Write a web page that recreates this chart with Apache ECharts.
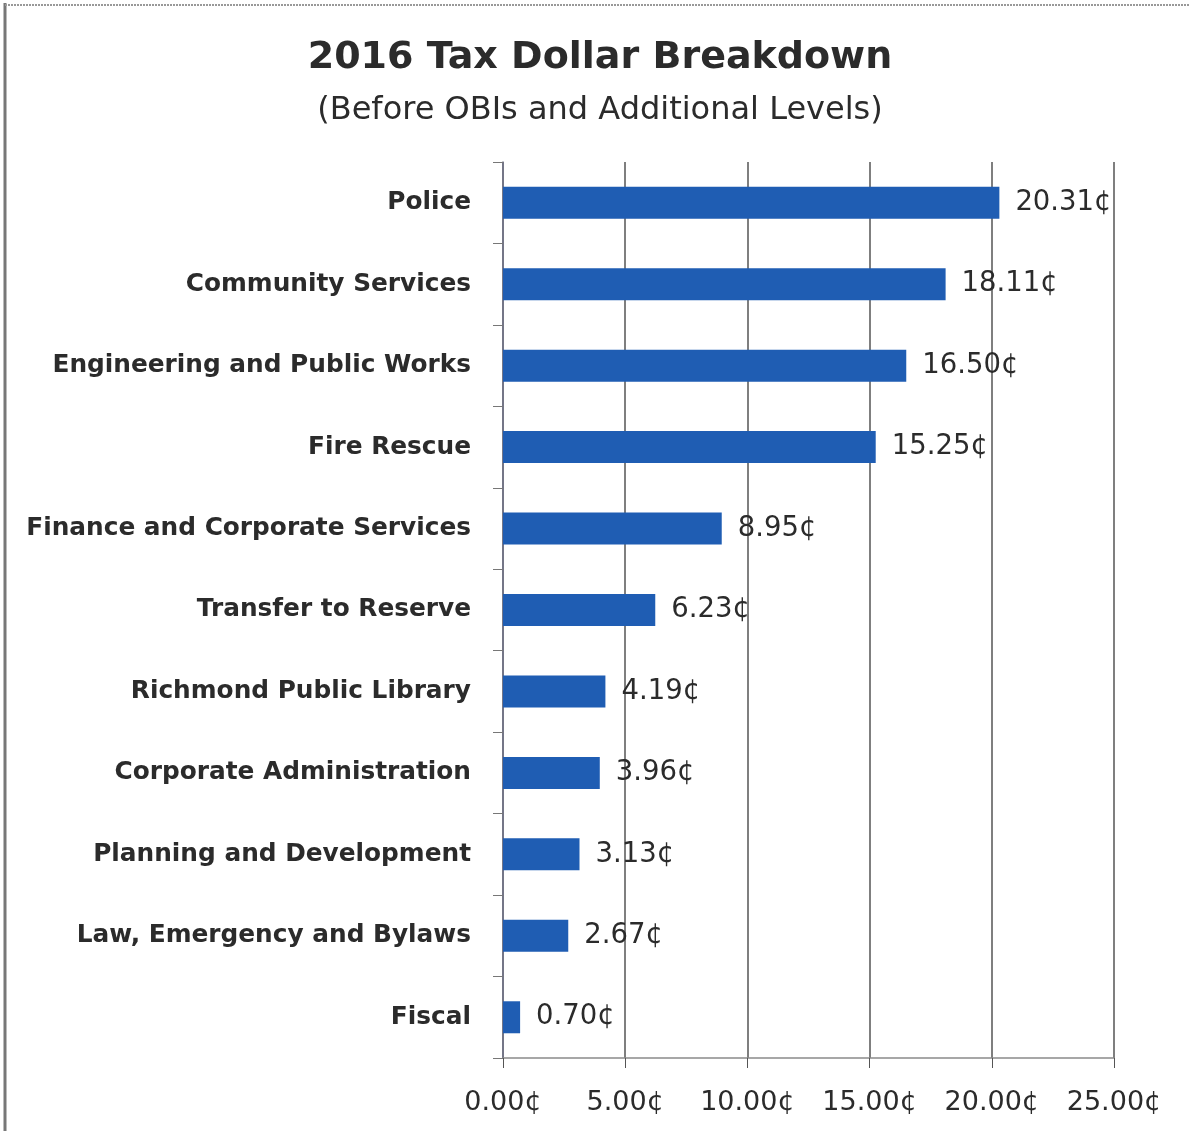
<!DOCTYPE html>
<html>
<head>
<meta charset="utf-8">
<script src="https://cdn.jsdelivr.net/npm/echarts@6/dist/echarts.min.js"></script>
<style>
  html, body { margin: 0; padding: 0; background: #fff; }
  #chart { width: 1190px; height: 1131px; }
</style>
</head>
<body>
<div id="chart"></div>
<script>
// Departments, top to bottom
const categories = [
  'Police',
  'Community Services',
  'Engineering and Public Works',
  'Fire Rescue',
  'Finance and Corporate Services',
  'Transfer to Reserve',
  'Richmond Public Library',
  'Corporate Administration',
  'Planning and Development',
  'Law, Emergency and Bylaws',
  'Fiscal'
];
// Cents of each tax dollar
const cents = [20.31, 18.11, 16.50, 15.25, 8.95, 6.23, 4.19, 3.96, 3.13, 2.67, 0.70];
// Value axis range
const axisMin = 0;
const axisMax = 25;
const axisStep = 5;

const chart = echarts.init(document.getElementById('chart'));
const textColor = '#2b2b2b';
const fmtCents = v => Number(v).toFixed(2) + '\u00A2';

chart.setOption({
  backgroundColor: '#ffffff',
  animation: false,
  title: [
    {
      text: '2016 Tax Dollar Breakdown',
      left: 595, top: 34, textAlign: 'center',
      textStyle: { fontFamily: 'DejaVu Sans', fontWeight: 'bold', fontSize: 38, color: textColor }
    },
    {
      text: '(Before OBIs and Additional Levels)',
      left: 595, top: 90, textAlign: 'center',
      textStyle: { fontFamily: 'DejaVu Sans', fontWeight: 'normal', fontSize: 32, color: textColor }
    }
  ],
  graphic: [
    { type: 'line', shape: { x1: 5, y1: 3, x2: 5, y2: 1131 }, style: { stroke: '#777', lineWidth: 3 } },
    { type: 'line', shape: { x1: 5, y1: 5, x2: 1190, y2: 5 }, style: { stroke: '#999', lineWidth: 2, lineDash: [2, 1] } }
  ],
  grid: { left: 503, right: 76, top: 162, bottom: 73, containLabel: false },
  xAxis: {
    type: 'value',
    min: axisMin, max: axisMax, interval: axisStep,
    axisLine: { show: true, lineStyle: { color: '#8a8a8a', width: 1.5 } },
    axisTick: { show: true, length: 10, lineStyle: { color: '#555' } },
    splitLine: { show: true, lineStyle: { color: '#555', width: 1.5 } },
    axisLabel: {
      formatter: fmtCents, margin: 31,
      fontFamily: 'DejaVu Sans', fontSize: 27, color: textColor
    }
  },
  yAxis: {
    type: 'category',
    data: categories,
    inverse: true,
    axisLine: { show: true, lineStyle: { color: '#70738a', width: 1.5 } },
    axisTick: { show: true, length: 10, lineStyle: { color: '#777' } },
    axisLabel: {
      margin: 32,
      fontFamily: 'DejaVu Sans', fontWeight: 'bold', fontSize: 24.8, color: textColor
    }
  },
  series: [{
    type: 'bar',
    data: cents,
    barWidth: 32,
    itemStyle: { color: '#1F5DB3' },
    label: {
      show: true, position: 'right', distance: 16,
      formatter: p => fmtCents(p.value),
      fontFamily: 'DejaVu Sans', fontSize: 27.5, color: textColor
    }
  }]
});
</script>
</body>
</html>
